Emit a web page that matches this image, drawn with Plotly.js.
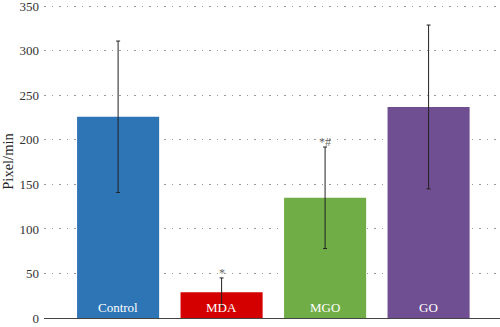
<!DOCTYPE html>
<html>
<head>
<meta charset="utf-8">
<script src="https://cdn.plot.ly/plotly-3.0.1.min.js"></script>
<style>html,body{margin:0;padding:0;background:#fff;}#chart{width:500px;height:327px;}</style>
</head>
<body>
<div id="chart"></div>
<script>
const categories = ["Control", "MDA", "MGO", "GO"];
const values = [226, 29, 135, 237];
const errors = [85, 16, 57, 92];
const markers = ["", "*", "*#", ""];
const barColors = ["#2E75B6", "#D40000", "#70AD47", "#6F4E91"];
const yTicks = [0, 50, 100, 150, 200, 250, 300, 350];

const serif = "Liberation Serif, Times New Roman, serif";

const trace = {
  type: "bar",
  x: categories,
  y: values,
  marker: {color: barColors, line: {width: 0}},
  error_y: {type: "data", array: errors, visible: true, color: "#222", thickness: 1, width: 2},
  hoverinfo: "none"
};

const annotations = [];
categories.forEach((c, i) => {
  annotations.push({x: c, y: 0, xref: "x", yref: "y", text: c, showarrow: false,
    yanchor: "bottom", yshift: 1, font: {family: serif, size: 13, color: "#ffffff"}});
  if (markers[i]) {
    annotations.push({x: c, y: values[i] + errors[i], xref: "x", yref: "y", text: markers[i],
      showarrow: false, yanchor: "bottom", yshift: -4, font: {family: serif, size: 12, color: "#666"}});
  }
});

const layout = {
  width: 500, height: 327,
  margin: {l: 44, r: 0, t: 5, b: 9},
  paper_bgcolor: "#fff", plot_bgcolor: "#fff",
  showlegend: false,
  bargap: 0.207,
  xaxis: {range: [-0.716, 3.69], showticklabels: false, ticks: "", showgrid: false,
    showline: true, linecolor: "#444", linewidth: 1, zeroline: false, fixedrange: true},
  yaxis: {range: [0, 351.5], tickvals: yTicks, ticktext: yTicks.map(String), ticks: "",
    ticklabeloverflow: "allow",
    showline: false, zeroline: false, showgrid: true, gridcolor: "#999", griddash: "1.5px,6px", gridwidth: 1,
    tickfont: {family: serif, size: 13, color: "#333"}, ticklabelstandoff: 4,
    title: {text: "Pixel/min", font: {family: serif, size: 14.5, color: "#222"}, standoff: 3}},
  annotations: annotations
};

Plotly.newPlot("chart", [trace], layout, {displayModeBar: false, staticPlot: true});
</script>
</body>
</html>
